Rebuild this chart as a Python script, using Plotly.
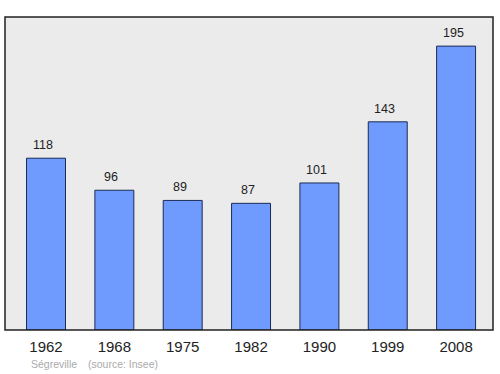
import plotly.graph_objects as go

years = ["1962", "1968", "1975", "1982", "1990", "1999", "2008"]
population = [118, 96, 89, 87, 101, 143, 195]

xs = list(range(len(years)))

fig = go.Figure()
fig.add_trace(go.Bar(
    x=xs, y=population, width=0.57,
    marker=dict(color="#6f9bff", line=dict(color="#1c2a55", width=1)),
    hoverinfo="skip",
))

for x, v in zip(xs, population):
    fig.add_annotation(x=x, y=v, text=str(v), showarrow=False,
                       yanchor="bottom", yshift=4, xshift=-3,
                       font=dict(family="Liberation Sans, Arial", size=12.5, color="#222"))

fig.add_shape(type="rect", xref="paper", yref="paper", x0=0, y0=0, x1=1, y1=1,
              line=dict(color="#222", width=1.5), layer="above")

fig.add_annotation(xref="paper", yref="paper", x=0.049, y=-0.11, text="Ségreville",
                   showarrow=False, xanchor="left", yanchor="middle",
                   font=dict(family="Liberation Sans, Arial", size=10.5, color="#aaa"))
fig.add_annotation(xref="paper", yref="paper", x=0.167, y=-0.11, text="(source: Insee)",
                   showarrow=False, xanchor="left", yanchor="middle",
                   font=dict(family="Liberation Sans, Arial", size=10.5, color="#aaa"))

fig.update_layout(
    width=500, height=374,
    margin=dict(l=5, r=7, t=17, b=44),
    paper_bgcolor="white", plot_bgcolor="#ebebeb",
    showlegend=False,
    xaxis=dict(range=[-0.6, 6.54], tickvals=xs, ticktext=years, showgrid=False,
               zeroline=False, ticks="", ticklabelstandoff=6,
               tickfont=dict(family="Liberation Sans, Arial", size=15, color="#222")),
    yaxis=dict(range=[0, 215], showgrid=False, zeroline=False, showticklabels=False),
)

fig.write_html("out.html")
